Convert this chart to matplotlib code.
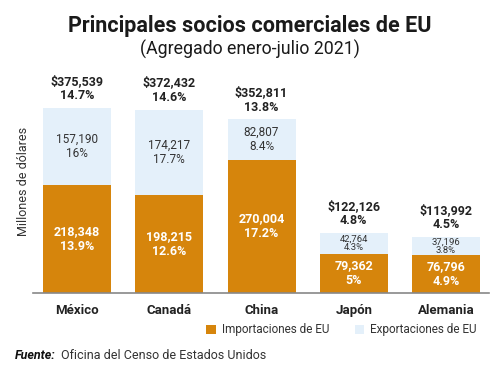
import numpy as np
import matplotlib.pyplot as plt

plt.rcParams['font.family'] = ['Roboto', 'DejaVu Sans']

paises = ['México', 'Canadá', 'China', 'Japón', 'Alemania']
importaciones = [218348, 198215, 270004, 79362, 76796]
imp_pct = ['13.9%', '12.6%', '17.2%', '5%', '4.9%']
exportaciones = [157190, 174217, 82807, 42764, 37196]
exp_pct = ['16%', '17.7%', '8.4%', '4.3%', '3.8%']
totales = [375539, 372432, 352811, 122126, 113992]
tot_pct = ['14.7%', '14.6%', '13.8%', '4.8%', '4.5%']

naranja = '#D6850C'
azul = '#E4F0FA'

fig = plt.figure(figsize=(5, 3.73), dpi=100)
ax = fig.add_axes([0.066, 0.2145, 0.912, 0.6])

x = np.arange(len(paises))
w = 0.737
ax.bar(x, importaciones, w, color=naranja, label='Importaciones de EU')
ax.bar(x, exportaciones, w, bottom=importaciones, color=azul, label='Exportaciones de EU')

ax.set_xlim(-0.477, 4.466)
ax.set_ylim(0, 454300)

for i in range(len(paises)):
    imp = importaciones[i]
    exp = exportaciones[i]
    tot = imp + exp
    # total
    ax.annotate('$' + format(totales[i], ',') + '\n' + tot_pct[i], (x[i], tot),
                xytext=(0, 4), textcoords='offset points', ha='center', va='bottom',
                fontsize=9, fontweight='bold', color='#222222', linespacing=1.15)
    # exportaciones
    if exp > 60000:
        ax.text(x[i], imp + exp / 2, format(exp, ',') + '\n' + exp_pct[i],
                ha='center', va='center', fontsize=8.5, color='#333333', linespacing=1.1)
    else:
        ax.text(x[i], imp + exp / 2, format(exp, ',') + '\n' + exp_pct[i],
                ha='center', va='center', fontsize=6.8, color='#333333', linespacing=0.9)
    # importaciones
    ax.text(x[i], imp / 2, format(imp, ',') + '\n' + imp_pct[i],
            ha='center', va='center', fontsize=9, color='white',
            fontweight='bold', linespacing=1.2)

for s in ['top', 'right', 'left']:
    ax.spines[s].set_visible(False)
ax.spines['bottom'].set_color('#888888')
ax.spines['bottom'].set_linewidth(1.2)
ax.set_yticks([])
ax.set_xticks(x)
ax.set_xticklabels(paises, fontsize=9.5, fontweight='bold', color='#222222')
ax.tick_params(axis='x', length=0, pad=8)
ax.set_ylabel('Millones de dólares', fontsize=9, color='#333333', labelpad=2)

fig.text(0.5, 0.93, 'Principales socios comerciales de EU', ha='center', va='center',
         fontsize=15.5, fontweight='bold', color='#1a1a1a')
fig.text(0.5, 0.868, '(Agregado enero-julio 2021)', ha='center', va='center',
         fontsize=12.8, color='#1a1a1a')

fig.legend(loc='lower right', bbox_to_anchor=(0.975, 0.07), ncol=2, frameon=False,
           fontsize=8.5, handlelength=0.8, handleheight=0.8, handletextpad=0.5,
           columnspacing=2.2, labelcolor='#333333')

fig.text(0.03, 0.047, 'Fuente:', ha='left', va='center', fontsize=9,
         fontweight='bold', style='italic', color='#111111')
fig.text(0.122, 0.047, 'Oficina del Censo de Estados Unidos', ha='left', va='center',
         fontsize=9, color='#333333')

fig.savefig('out.png', dpi=100)
